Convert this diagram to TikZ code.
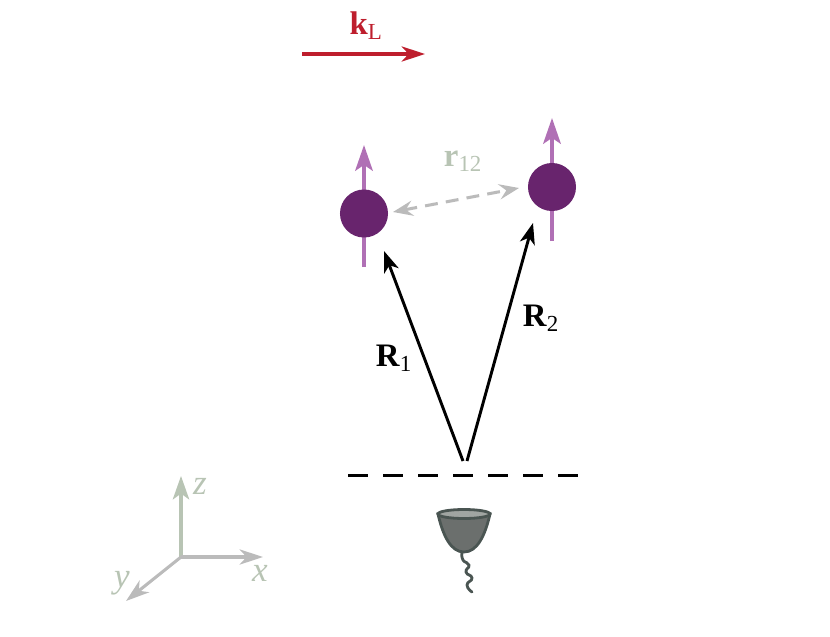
\documentclass[tikz,border=0pt]{standalone}
\usepackage{fontspec}
\setmainfont{Liberation Serif}
\usepackage{xcolor}
\usetikzlibrary{arrows.meta}
\definecolor{laser}{HTML}{BE1E2D}
\definecolor{atom}{HTML}{68246D}
\definecolor{spin}{HTML}{B070B5}
\definecolor{sep}{HTML}{BBBBBB}
\definecolor{muted}{HTML}{B8C4B4}
\definecolor{cone}{HTML}{6B6F6D}
\definecolor{conetop}{HTML}{A0A5A2}
\definecolor{coneline}{HTML}{4A5552}
\tikzset{
  tipbig/.style={-{Stealth[length=20pt,width=13pt,inset=6pt]}},
  vec/.style={draw=black, line width=2.5pt, -{Stealth[length=18pt,width=13pt,inset=5pt]}},
  beam/.style={draw=laser, line width=2.6pt, tipbig},
  spinarr/.style={draw=spin, line width=3pt, -{Stealth[length=22pt,width=15pt,inset=5pt]}},
  sepvec/.style={draw=sep, line width=2.6pt, dash pattern=on 11pt off 7pt, {Stealth[length=17pt,width=13pt,inset=6pt]}-{Stealth[length=17pt,width=13pt,inset=6pt]}},
  axz/.style={draw=muted, line width=2.6pt, -{Stealth[length=20pt,width=14pt,inset=5pt]}},
  axg/.style={draw=sep, line width=2.6pt, tipbig},
  pt/.style={circle, fill=atom, minimum size=41pt, inner sep=0pt},
  slit/.style={draw=black, line width=2.5pt, dash pattern=on 17pt off 12.9pt},
  labb/.style={font=\fontsize{28}{29}\selectfont},
  labl/.style={text=laser, font=\fontsize{28}{29}\selectfont},
  labm/.style={text=muted, font=\fontsize{28}{29}\selectfont},
  labx/.style={text=muted, font=\fontsize{30}{31}\selectfont\itshape}
}
\begin{document}
\begin{tikzpicture}[x=0.03cm,y=-0.03cm]
  \useasboundingbox (0,0) rectangle (830,636);

  % laser
  \coordinate (LS) at (302,54);
  \coordinate (LE) at (425,54);
  \draw[beam] (LS)--(LE);
  \node[labl] (kL) at (366,26) {\textbf{k}\textsubscript{L}};

  % spins
  \coordinate (A1) at (364,267); \coordinate (A2) at (364,145);
  \coordinate (B1) at (552,241); \coordinate (B2) at (552,118);
  \draw[spinarr] (A1)--(A2);
  \draw[spinarr] (B1)--(B2);
  \node[pt] (atomA) at (364,213.5) {};
  \node[pt] (atomB) at (552,187) {};

  % separation
  \coordinate (SA) at (393,212);
  \coordinate (SB) at (519,188);
  \draw[sepvec] (SA)--(SB);
  \node[labm] (r12) at (463,161) {\textbf{r}\textsubscript{12}};

  % position vectors
  \coordinate (O1) at (463,461); \coordinate (T1) at (384,251);
  \coordinate (O2) at (467,461); \coordinate (T2) at (533,223);
  \draw[vec] (O1)--(T1);
  \draw[vec] (O2)--(T2);
  \node[labb] (R1) at (394,358) {\textbf{R}\textsubscript{1}};
  \node[labb] (R2) at (541,318) {\textbf{R}\textsubscript{2}};

  % aperture
  \coordinate (SL) at (348,475.6);
  \coordinate (SR) at (579,475.6);
  \draw[slit] (SL)--(SR);

  % detector
  \draw[draw=coneline, line width=2.4pt, line cap=round]
    plot[smooth, tension=1] coordinates {(462,553) (463,560) (469,565) (466,572) (472,578) (467,585) (472,592)};
  \draw[draw=coneline, fill=cone, line width=2.4pt]
    (438,514) .. controls (443,536) and (451,552) .. (464,552)
    .. controls (477,552) and (485,536) .. (490,514) -- cycle;
  \draw[draw=coneline, fill=conetop, line width=2.4pt] (464,514) ellipse (26 and 4.5);

  % axes
  \coordinate (O) at (181,557);
  \coordinate (Z) at (181,476);
  \coordinate (X) at (263,557);
  \coordinate (Y) at (126,601);
  \draw[axz] (O)--(Z);
  \draw[axg] (O)--(X);
  \draw[axg] (O)--(Y);
  \node[labx] (zlab) at (200,486) {z};
  \node[labx] (xlab) at (260,573) {x};
  \node[labx] (ylab) at (122,583) {y};
\end{tikzpicture}
\end{document}
